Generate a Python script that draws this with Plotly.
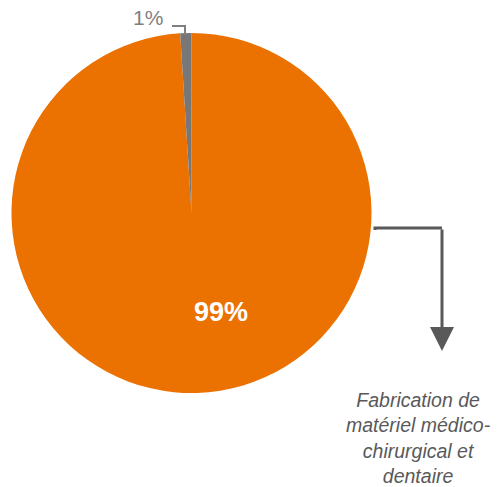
import plotly.graph_objects as go

labels = ["Fabrication de matériel médico-chirurgical et dentaire", "Autres"]
values = [99, 1]
colors = ["#EB7100", "#777777"]
pct_labels = ["99%", "1%"]
category_text = "Fabrication de<br>matériel médico-<br>chirurgical et<br>dentaire"

W, H = 502, 487

def px(x):
    return x / W

def py(y):
    return 1 - y / H

fig = go.Figure(go.Pie(
    labels=labels,
    values=values,
    marker=dict(colors=colors, line=dict(width=0)),
    sort=False,
    direction="clockwise",
    rotation=0,
    textinfo="none",
    hoverinfo="label+percent",
    domain=dict(x=[px(11.5), px(371.5)], y=[py(393), py(33)]),
    showlegend=False,
))

shapes = [
    # leader for 1%
    dict(type="path", xref="paper", yref="paper",
         path=f"M {px(185)} {py(35)} L {px(185)} {py(26)} L {px(172)} {py(26)}",
         line=dict(color="#7f7f7f", width=2)),
    # elbow connector
    dict(type="path", xref="paper", yref="paper",
         path=f"M {px(375)} {py(230)} L {px(375)} {py(228)} L {px(442)} {py(228)}",
         line=dict(color="#595959", width=3)),
]

annotations = [
    dict(x=px(148), y=py(18), xref="paper", yref="paper", text=pct_labels[1],
         xanchor="center", yanchor="middle",
         showarrow=False, font=dict(family="Liberation Sans, Arial", size=21, color="#7f7f7f")),
    dict(x=px(221), y=py(312), xref="paper", yref="paper", text=f"<b>{pct_labels[0]}</b>",
         xanchor="center", yanchor="middle",
         showarrow=False, font=dict(family="Liberation Sans, Arial", size=27, color="white")),
    dict(x=px(442), y=py(351), xref="paper", yref="paper", text="",
         showarrow=True, ax=0, ay=-123, axref="pixel", ayref="pixel",
         arrowhead=2, arrowsize=1.6, arrowwidth=3, arrowcolor="#595959", standoff=0),
    dict(x=px(418), y=py(438), xref="paper", yref="paper", text=f"<i>{category_text}</i>",
         xanchor="center", yanchor="middle",
         showarrow=False, align="center",
         font=dict(family="Liberation Sans, Arial", size=19.5, color="#595959")),
]

fig.update_layout(
    width=W, height=H,
    margin=dict(l=0, r=0, t=0, b=0),
    paper_bgcolor="white",
    plot_bgcolor="white",
    shapes=shapes,
    annotations=annotations,
)

fig.write_html("out.html", config={"displayModeBar": False},
               post_script="document.body.style.margin='0';")
